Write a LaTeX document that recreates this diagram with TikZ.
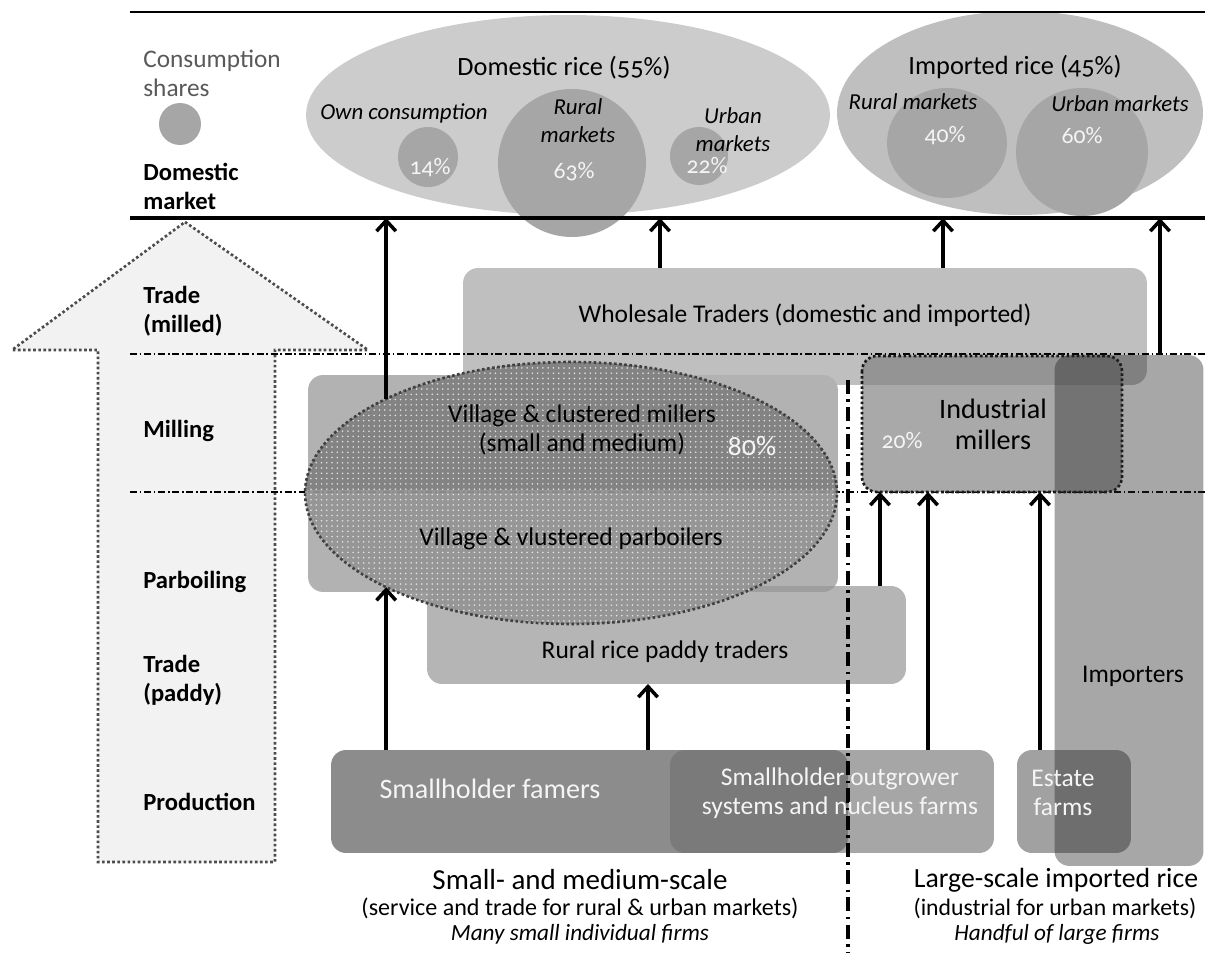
\documentclass[tikz,border=0pt]{standalone}
\usepackage{fontspec}
\setmainfont{Carlito}[Numbers=OldStyle]
\usetikzlibrary{arrows.meta,patterns,shapes.geometric}
\begin{document}
\begin{tikzpicture}[x=0.02cm,y=-0.02cm,
  box/.style={rectangle, rounded corners=0.3cm, inner sep=0pt, outer sep=0pt, draw=none},
  dotb/.style={line width=1.5pt, dash pattern=on 1.5pt off 1.4pt},
  lbl/.style={anchor=west, align=left, inner sep=0pt, font=\fontsize{14}{16.5}\selectfont\bfseries},
  txt/.style={align=center, inner sep=0pt, font=\fontsize{14.5}{16.5}\selectfont},
  itx/.style={align=center, inner sep=0pt, font=\fontsize{13}{16}\selectfont\itshape},
  pct/.style={inner sep=0pt, text=black!4, font=\fontsize{13.5}{16}\selectfont},
  wtx/.style={txt, text=black!4},
  arr/.style={line width=2pt, -{Straight Barb[length=6pt,width=11pt]}},
  ddl/.style={line width=0.8pt, dash pattern=on 4pt off 1.5pt on 1pt off 1.5pt},
  blob/.style={inner sep=0pt, outer sep=0pt, fill=black!35},
]
\useasboundingbox (0,0) rectangle (1205,953);

% ---- big stage arrow
\draw[fill=black!5, draw=black!70, dotb] (185,222) -- (368,350) -- (275,350) -- (275,862) -- (98,862) -- (98,350) -- (12,350) -- cycle;

% ---- consumption shares
\node[ellipse, inner sep=0pt, fill=black!20, minimum width=10.48cm, minimum height=4cm] (dom) at (568,115) {};
\node[ellipse, inner sep=0pt, fill=black!25, minimum width=7.32cm, minimum height=4.08cm] (impe) at (1020,113) {};
\node[circle, blob, minimum size=1.2cm] (c14) at (428,157) {};
\node[circle, blob, minimum size=2.96cm] (c63) at (572,163) {};
\node[circle, blob, minimum size=1.16cm] (c22) at (699,156) {};
\node[ellipse, blob, minimum width=2.4cm, minimum height=2.2cm] (c40) at (947,143) {};
\node[ellipse, blob, minimum width=2.64cm, minimum height=2.56cm] (c60) at (1082,152) {};
\node[circle, blob, minimum size=0.84cm] (leg) at (180,124) {};

% ---- frame lines
\coordinate (tl-l) at (130,12);  \coordinate (tl-r) at (1205,12);
\coordinate (dl-l) at (130,218); \coordinate (dl-r) at (1205,218);
\draw[line width=1.5pt] (tl-l) -- (tl-r);
\draw[line width=2pt] (dl-l) -- (dl-r);

% ---- boxes
\node[box, fill=black!25, minimum width=13.68cm, minimum height=2.34cm] (ws) at (805,326.5) {};
\node[box, fill=black!30, minimum width=10.6cm, minimum height=4.34cm] (vb) at (573,483.5) {};
\node[box, fill=black!41, fill opacity=0.7, minimum width=9.58cm, minimum height=1.96cm] (rt) at (666.5,635) {};

% stage lines
\coordinate (h1-l) at (130,354); \coordinate (h1-r) at (1205,354);
\coordinate (h2-l) at (130,492); \coordinate (h2-r) at (1205,492);
\draw[ddl] (h1-l) -- (h1-r);
\draw[ddl] (h2-l) -- (h2-r);

% village ellipse
\node[ellipse, inner sep=0pt, outer sep=0pt, minimum width=10.64cm, minimum height=5.24cm,
  fill=black!42, fill opacity=0.93,
  path picture={\fill[black!49] (path picture bounding box.north west) rectangle ([yshift=0.06cm]path picture bounding box.east);},
  postaction={pattern=dots, pattern color=black!8}] (vill) at (571,493) {};
\draw[draw=black!75, dotb] (vill.center) ellipse [x radius=5.32cm, y radius=2.62cm];

\node[box, fill=black!50, fill opacity=0.68, minimum width=5.2cm, minimum height=2.72cm] (ind) at (992,424) {};
\draw[dotb, draw=black!90, rounded corners=0.3cm] (ind.north west) rectangle (ind.south east);

\node[box, fill=black!45, minimum width=10.34cm, minimum height=2.06cm] (sf) at (589.5,801.5) {};
\node[box, fill=black!56, fill opacity=0.62, minimum width=6.48cm, minimum height=2.06cm] (og) at (832,801.5) {};
\node[box, fill=black!37, minimum width=2.28cm, minimum height=2.06cm] (est) at (1074,801.5) {};
\node[box, fill=black!86, fill opacity=0.405, minimum width=2.98cm, minimum height=10.22cm] (imp) at (1129,610.5) {};

% vertical divider
\coordinate (vd-t) at (848,380); \coordinate (vd-b) at (848,953);
\draw[line width=1.8pt, dash pattern=on 8pt off 3pt on 1.5pt off 3pt] (vd-t) -- (vd-b);

% ---- arrows
\coordinate (x648) at (648,0); \coordinate (x660) at (660,0); \coordinate (x880) at (880,0);
\coordinate (x928) at (928,0); \coordinate (x943) at (943,0); \coordinate (x1040) at (1040,0);
\coordinate (x1160) at (1160,0);
\draw[arr] (sf.north -| vill.207) -- (vill.207);
\draw[arr] (sf.north -| x648) -- (rt.south -| x648);
\draw[arr] (rt.north -| x880) -- (ind.south -| x880);
\draw[arr] (og.north -| x928) -- (ind.south -| x928);
\draw[arr] (est.north -| x1040) -- (ind.south -| x1040);
\draw[arr] (vill.153) -- (vill.153 |- dl-l);
\draw[arr] (ws.north -| x660) -- (dl-l -| x660);
\draw[arr] (ws.north -| x943) -- (dl-l -| x943);
\draw[arr] (imp.north -| x1160) -- (dl-l -| x1160);

% ---- left labels
\node[lbl, font=\fontsize{14.4}{16.5}\selectfont, text=black!65] (l-cs) at (143,73) {Consumption\\shares};
\node[lbl] (l-dm) at (143,186) {Domestic\\market};
\node[lbl] (l-tm) at (143,311) {Trade\\(milled)};
\node[lbl] (l-mi) at (143,431) {Milling};
\node[lbl] (l-pb) at (143,582) {Parboiling};
\node[lbl] (l-tp) at (143,680) {Trade\\(paddy)};
\node[lbl] (l-pr) at (143,802) {Production};

% ---- consumption texts
\node[txt, font=\fontsize{15}{17}\selectfont] (t-dom) at (564,68) {Domestic rice (55\%)};
\node[itx] (t-own) at (404,113) {Own consumption};
\node[itx] (t-rm) at (578,121) {Rural\\markets};
\node[itx] (t-um) at (733,130) {Urban\\markets};
\node[pct] (t14) at (430,168) {14\%};
\node[pct] (t63) at (574,172) {63\%};
\node[pct] (t22) at (707,166) {22\%};
\node[txt, font=\fontsize{15}{17}\selectfont] (t-imp) at (1015,67) {Imported rice (45\%)};
\node[itx] (t-irm) at (913,102) {Rural markets};
\node[itx] (t-ium) at (1120,104) {Urban markets};
\node[pct] (t40) at (945,136) {40\%};
\node[pct] (t60) at (1082,136) {60\%};

% ---- box texts
\node[txt] (t-ws) at (805,315) {Wholesale Traders (domestic and imported)};
\node[txt] (t-vm) at (582,430) {Village \& clustered millers\\(small and medium)};
\node[pct, font=\fontsize{16}{19}\selectfont] (t80) at (752,446) {80\%};
\node[txt] (t-vp) at (571,539) {Village \& vlustered parboilers};
\node[txt] (t-rt) at (665,652) {Rural rice paddy traders};
\node[txt, font=\fontsize{16}{17.5}\selectfont] (t-ind) at (993,424) {Industrial\\millers};
\node[pct] (t20) at (902,441) {20\%};
\node[wtx, font=\fontsize{16}{18}\selectfont] (t-sf) at (490,789) {Smallholder famers};
\node[wtx] (t-og) at (840,793) {Smallholder outgrower\\systems and nucleus farms};
\node[wtx] (t-est) at (1063,793) {Estate\\farms};
\node[txt] (t-imp2) at (1133,676) {Importers};

% ---- bottom captions
\node[txt, font=\fontsize{16.5}{18}\selectfont] (b1) at (580,880) {Small- and medium-scale};
\node[txt, font=\fontsize{13.7}{15}\selectfont] (b2) at (580,908) {(service and trade for rural \& urban markets)};
\node[itx, font=\fontsize{13.2}{14}\selectfont\itshape] (b3) at (580,934) {Many small individual firms};
\node[txt, font=\fontsize{15.8}{18}\selectfont] (b4) at (1056,880) {Large-scale imported rice};
\node[txt, font=\fontsize{13.5}{15}\selectfont] (b5) at (1055,908) {(industrial for urban markets)};
\node[itx, font=\fontsize{13.2}{14}\selectfont\itshape] (b6) at (1057,934) {Handful of large firms};
\end{tikzpicture}
\end{document}
